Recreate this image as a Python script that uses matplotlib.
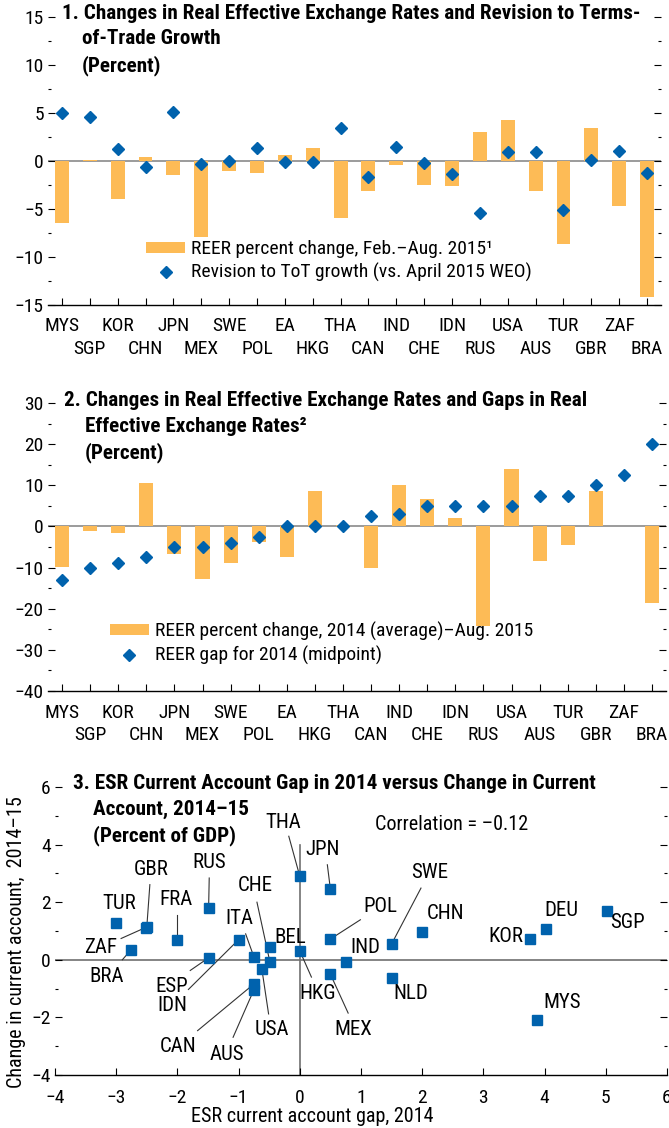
import matplotlib
matplotlib.use('Agg')
import matplotlib.pyplot as plt
import numpy as np

plt.rcParams['font.family'] = ['Roboto Condensed', 'DejaVu Sans']
plt.rcParams['axes.unicode_minus'] = True

# --- data ---
countries = ['MYS', 'SGP', 'KOR', 'CHN', 'JPN', 'MEX', 'SWE', 'POL', 'EA', 'HKG', 'THA',
             'CAN', 'IND', 'CHE', 'IDN', 'RUS', 'USA', 'AUS', 'TUR', 'GBR', 'ZAF', 'BRA']

reer_feb_aug = [-6.45, 0.1, -3.97, 0.38, -1.48, -7.9, -1.07, -1.28, 0.59, 1.31, -5.93,
                -3.14, -0.45, -2.52, -2.62, 3.07, 4.31, -3.14, -8.62, 3.48, -4.69, -14.2]
tot_revision = [5.03, 4.6, 1.2, -0.65, 5.1, -0.28, 0.0, 1.34, -0.1, -0.07, 3.48,
                -1.62, 1.41, -0.2, -1.34, -5.41, 0.93, 0.97, -5.1, 0.1, 1.07, -1.2]

reer_2014_aug = [-9.75, -1.2, -1.7, 10.5, -6.6, -12.7, -8.8, -3.9, -7.55, 8.5, 0.25,
                 -10.0, 10.0, 6.6, 2.0, -24.1, 13.9, -8.5, -4.6, 8.5, 0.0, -18.7]
reer_gap_2014 = [-13.0, -10.0, -9.0, -7.5, -5.0, -5.0, -4.0, -2.5, 0.0, 0.0, 0.0,
                 2.5, 3.0, 5.0, 5.0, 5.0, 5.0, 7.5, 7.5, 10.0, 12.5, 20.0]

esr_countries = ['TUR', 'GBR', 'ZAF', 'BRA', 'FRA', 'RUS', 'ESP', 'IDN', 'ITA', 'BEL',
                 'CHE', 'USA', 'CAN', 'AUS', 'THA', 'JPN', 'HKG', 'POL', 'MEX', 'IND',
                 'SWE', 'NLD', 'CHN', 'KOR', 'DEU', 'SGP', 'MYS']
esr_gap = [-3.0, -2.5, -2.52, -2.76, -2.0, -1.49, -1.49, -1.0, -0.75, -0.49,
           -0.49, -0.62, -0.75, -0.75, 0.0, 0.5, 0.0, 0.5, 0.5, 0.75,
           1.5, 1.5, 2.0, 3.76, 4.02, 5.02, 3.87]
ca_change = [1.28, 1.14, 1.12, 0.34, 0.7, 1.8, 0.07, 0.7, 0.1, 0.44,
             -0.06, -0.32, -0.84, -1.04, 2.9, 2.45, 0.31, 0.72, -0.5, -0.08,
             0.55, -0.63, 0.95, 0.73, 1.08, 1.71, -2.09]

# label placement for panel 3: text centre, start of leader line (None = no line)
label_pos = {
    'TUR': (-2.95, 1.97, None), 'GBR': (-2.43, 3.13, (-2.45, 2.61)),
    'ZAF': (-3.25, 0.44, (-2.92, 0.74)), 'BRA': (-3.16, -0.58, (-2.9, 0.0)),
    'FRA': (-2.03, 2.09, (-2.0, 1.56)), 'RUS': (-1.48, 3.38, (-1.48, 2.84)),
    'ESP': (-2.1, -0.93, (-1.79, -0.37)), 'IDN': (-2.08, -1.59, (-1.82, -1.03)),
    'ITA': (-0.98, 1.45, (-0.885, 0.9)), 'BEL': (-0.15, 0.79, None),
    'CHE': (-0.73, 2.58, (-0.70, 2.0)), 'USA': (-0.45, -2.41, (-0.51, -1.88)),
    'CAN': (-1.99, -3.01, (-1.67, -2.46)), 'AUS': (-1.2, -3.3, (-1.09, -2.69)),
    'THA': (-0.27, 4.77, (-0.18, 4.29)), 'JPN': (0.38, 3.82, (0.45, 3.3)),
    'HKG': (0.3, -1.18, (0.19, -0.6)), 'POL': (1.31, 1.85, (0.99, 1.39)),
    'MEX': (0.88, -2.41, (0.79, -1.85)), 'IND': (1.07, 0.44, None),
    'SWE': (2.12, 3.04, (1.98, 2.49)), 'NLD': (1.82, -1.16, None),
    'CHN': (2.38, 1.6, None), 'KOR': (3.36, 0.81, None),
    'DEU': (4.27, 1.71, None), 'SGP': (5.36, 1.3, None), 'MYS': (4.29, -1.48, None),
}

orange = '#FDBB56'
blue = '#0062AD'
fs = 14
tfs = 15.2

W, H = 669, 1128
fig = plt.figure(figsize=(W / 100, H / 100), dpi=100)


def ax_px(left, right, top, bottom):
    return fig.add_axes([left / W, 1 - bottom / H, (right - left) / W, (bottom - top) / H])


def title(x1, x2, top, lines):
    # first line at x1, continuation lines indented to x2, ~25 px apart
    for i, line in enumerate(lines):
        fig.text((x1 if i == 0 else x2) / W, 1 - (top + 25.5 * i) / H, line,
                 fontsize=tfs, fontweight='bold', va='top')


def style_axes(ax):
    for s in ['top', 'left', 'right']:
        ax.spines[s].set_visible(False)
    ax.spines['bottom'].set_linewidth(1.0)
    ax.tick_params(axis='y', which='major', direction='in', length=5, width=0.8,
                   labelsize=fs, pad=3, left=True, right=True)
    ax.tick_params(axis='y', which='minor', direction='in', length=2, width=0.8,
                   left=True, right=True)
    ax.tick_params(axis='x', which='major', direction='in', length=5, width=0.8,
                   labelsize=fs, pad=9)


def bar_panel(ax, bars, dots, ylim, major, bar_label, dot_label, leg_xy):
    x = np.arange(len(countries))
    b = ax.bar(x, bars, width=0.5, color=orange, zorder=2, label=bar_label)
    ax.axhline(0, color='#8a8a8a', lw=1.2, zorder=1)
    d, = ax.plot(x, dots, 'D', color=blue, ms=6, zorder=3, ls='none', label=dot_label)
    ax.set_xlim(-0.5, len(countries) - 0.5)
    ax.set_ylim(*ylim)
    ax.set_yticks(np.arange(ylim[0], ylim[1] + 0.1, major))
    ax.set_yticks(np.arange(ylim[0], ylim[1] + 0.1, major / 2), minor=True)
    # country names alternate between two rows: even ones on major ticks, odd on minor
    ax.set_xticks(x[::2])
    ax.set_xticklabels(countries[::2])
    ax.set_xticks(x[1::2], minor=True)
    ax.set_xticklabels(countries[1::2], minor=True)
    style_axes(ax)
    ax.tick_params(axis='x', which='minor', direction='in', length=5, width=0.8,
                   labelsize=fs, pad=25.5)
    ax.legend(handles=[b, d], loc='upper left', bbox_to_anchor=leg_xy, frameon=False,
              fontsize=fs, handlelength=2.0, handleheight=0.5, handletextpad=0.3,
              labelspacing=0.25, borderpad=0, borderaxespad=0)


# panel 1
ax1 = ax_px(48, 661, 17, 305)
bar_panel(ax1, reer_feb_aug, tot_revision, (-15, 15), 5,
          'REER percent change, Feb.\u2013Aug. 2015\u00b9',
          'Revision to ToT growth (vs. April 2015 WEO)', (0.16, 0.225))
title(62, 82, 4, ['1. Changes in Real Effective Exchange Rates and Revision to Terms-',
                  'of-Trade Growth', '(Percent)'])

# panel 2
ax2 = ax_px(48, 666, 403, 691)
bar_panel(ax2, reer_2014_aug, reer_gap_2014, (-40, 30), 10,
          'REER percent change, 2014 (average)\u2013Aug. 2015',
          'REER gap for 2014 (midpoint)', (0.1, 0.24))
title(64, 85, 391, ['2. Changes in Real Effective Exchange Rates and Gaps in Real',
                    'Effective Exchange Rates\u00b2', '(Percent)'])

# panel 3
ax3 = ax_px(55, 667, 787, 1075)
ax3.axhline(0, color='#6f6f6f', lw=1.2, zorder=1)
ax3.plot([0, 0], [-4, 4], color='#6f6f6f', lw=1.2, zorder=1)
ax3.plot(esr_gap, ca_change, 's', color=blue, ms=7, ls='none', zorder=3)
for name, gx, cy in zip(esr_countries, esr_gap, ca_change):
    tx, ty, start = label_pos[name]
    ax3.text(tx, ty, name, fontsize=15, ha='center', va='center')
    if start is not None:
        ax3.plot([start[0], gx], [start[1], cy], color='#333333', lw=0.8, zorder=2)
ax3.set_xlim(-4, 6)
ax3.set_ylim(-4, 6)
ax3.set_xticks(np.arange(-4, 7, 1))
ax3.set_yticks(np.arange(-4, 7, 2))
ax3.set_yticks(np.arange(-4, 7, 1), minor=True)
style_axes(ax3)
ax3.tick_params(axis='x', pad=10)
ax3.set_xlabel('ESR current account gap, 2014', fontsize=14.5, labelpad=0, x=0.42)
ax3.set_ylabel('Change in current account,  2014\u201315', fontsize=14.5, labelpad=4, y=0.46)
fig.text(375 / W, 1 - 825 / H, 'Correlation = \u20130.12', fontsize=14.5, va='center')
title(73, 93, 774, ['3. ESR Current Account Gap in 2014 versus Change in Current',
                    'Account, 2014\u201315', '(Percent of GDP)'])

plt.savefig('out.png', dpi=100)
